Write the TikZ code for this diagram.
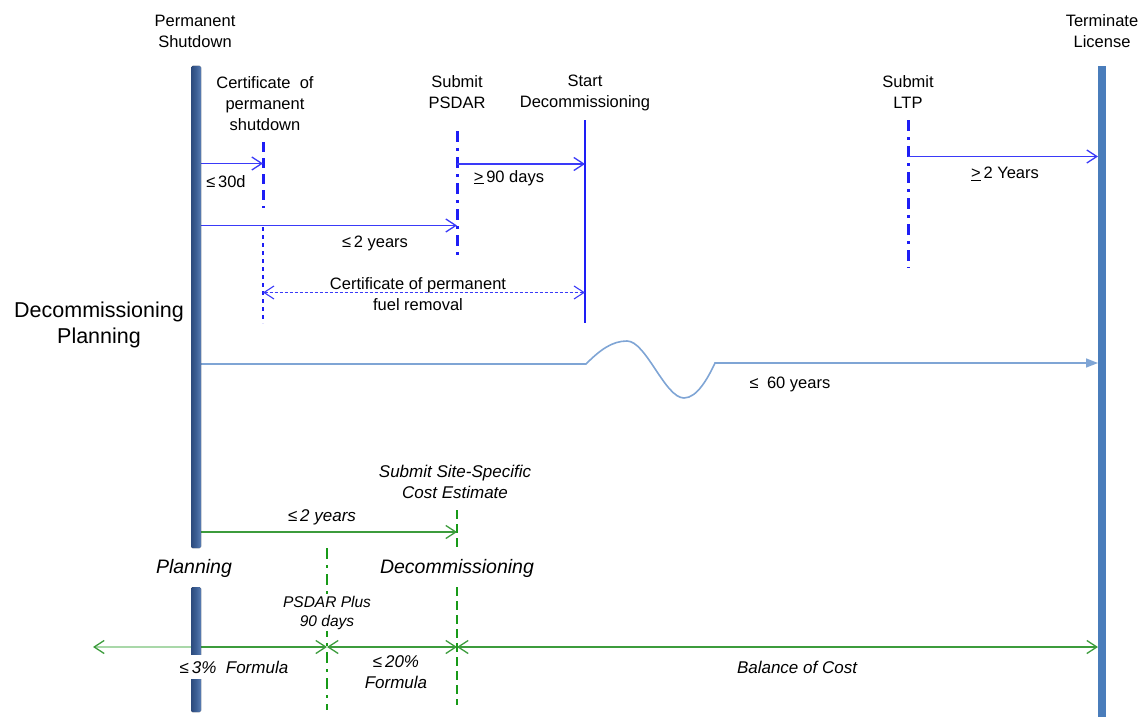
\documentclass[tikz,border=0pt]{standalone}
\usepackage{fontspec}
\setmainfont{Liberation Sans}
\usetikzlibrary{arrows.meta,calc}
\definecolor{nrcblue}{HTML}{1E1EF5}
\definecolor{arrblue}{HTML}{3A3AF8}
\definecolor{barblue}{HTML}{3C5F95}
\definecolor{bardark}{HTML}{2C4A7C}
\definecolor{barlight}{HTML}{5A7DB3}
\definecolor{termblue}{HTML}{4A7DBB}
\definecolor{wavblue}{HTML}{7FA5D5}
\definecolor{costgreen}{HTML}{3C9C3C}
\definecolor{dashgreen}{HTML}{189A18}
\definecolor{palegreen}{HTML}{A9D8A9}
\newcommand{\evfont}{\fontsize{16.5}{21}\selectfont}
\newcommand{\bigfont}{\fontsize{21.5}{26}\selectfont}
\newcommand{\costfont}{\fontsize{17}{21}\selectfont\itshape}
\newcommand{\phasefont}{\fontsize{19.5}{23}\selectfont\itshape}
\newcommand{\smallcost}{\fontsize{15.5}{19}\selectfont\itshape}

\tikzset{
  barb/.tip={Straight Barb[length=10pt,width=13pt]},
  evarrow/.style={arrblue,line width=1.3pt,-barb},
  fuelarrow/.style={arrblue,line width=1.1pt,dash pattern=on 3pt off 2pt,barb-barb},
  costarrow/.style={costgreen,line width=1.3pt,-barb},
  costboth/.style={costgreen,line width=1.3pt,barb-barb},
  palearrow/.style={palegreen,line width=1.3pt,-{Straight Barb[length=10pt,width=13pt,color=costgreen]}},
  certdash/.style={nrcblue,line width=3pt,dash pattern=on 10pt off 6pt},
  thindash/.style={nrcblue,line width=1.1pt,dash pattern=on 4pt off 4pt},
  dashdot/.style={nrcblue,line width=3pt,dash pattern=on 11pt off 6pt on 3pt off 6pt},
  sscdash/.style={dashgreen,line width=2.5pt,dash pattern=on 9pt off 5pt},
  plusdashdot/.style={dashgreen,line width=2.5pt,dash pattern=on 11pt off 6pt on 3pt off 6pt},
  wave/.style={wavblue,line width=1.6pt},
  lbl/.style={inner sep=0pt,align=center}
}

\begin{document}
\begin{tikzpicture}[x=1pt,y=-1pt]
  \useasboundingbox (0,0) rectangle (1143,717);
  % event lines
  \coordinate (shutT) at (196,66);
  \coordinate (certT) at (263,142);
  \coordinate (certM) at (263,208);
  \coordinate (certN) at (263,227);
  \coordinate (certB) at (263,323);
  \coordinate (psdarT) at (457,131);
  \coordinate (psdarB) at (457,258);
  \coordinate (startT) at (585,120);
  \coordinate (startB) at (585,323);
  \coordinate (ltpT) at (908,120);
  \coordinate (ltpB) at (908,268);
  \coordinate (termT) at (1102,66);
  \coordinate (sscT) at (457,510);
  \coordinate (sscM) at (457,548);
  \coordinate (sscN) at (457,587);
  \coordinate (sscB) at (457,705);
  \coordinate (plusT) at (327,548);
  \coordinate (plusB) at (327,710);
  \coordinate (farL) at (93,647);
  % rows
  \coordinate (r30) at (0,163.5);
  \coordinate (r90) at (0,164);
  \coordinate (r2y) at (0,225.5);
  \coordinate (rltp) at (0,156.5);
  \coordinate (rfuel) at (0,292.5);
  \coordinate (rlife) at (0,364);
  \coordinate (rend) at (0,363);
  \coordinate (rssc) at (0,532);
  \coordinate (rbal) at (0,647);

  \draw[certdash] (certT) -- (certM);
  \draw[thindash] (certN) -- (certB);
  \draw[dashdot] (psdarT) -- (psdarB);
  \draw[nrcblue,line width=2.5pt] (startT) -- (startB);
  \draw[dashdot] (ltpT) -- (ltpB);

  % license timeline arrows
  \draw[evarrow] (shutT |- r30) -- (certT |- r30);
  \draw[evarrow] (psdarT |- r90) -- (startT |- r90);
  \draw[evarrow] (shutT |- r2y) -- (psdarT |- r2y);
  \draw[evarrow,shorten >=4pt] (ltpT |- rltp) -- (termT |- rltp);
  \draw[fuelarrow] (certT |- rfuel) -- (startT |- rfuel);

  % sixty year line with the break
  \draw[wave,-{Triangle[length=12pt,width=9pt]},shorten >=4pt] (shutT |- rlife) -- (586,364)
    .. controls (600,350) and (612,341) .. (627,341)
    .. controls (646,341) and (665,398) .. (684,398)
    .. controls (697,398) and (708,378) .. (715,363) -- (termT |- rend);

  % cost estimate lines
  \draw[sscdash] (sscT) -- (sscM);
  \draw[sscdash] (sscN) -- (sscB);
  \draw[plusdashdot] (plusT) -- (plusB);
  \draw[costarrow] (shutT |- rssc) -- (sscT |- rssc);
  \draw[palearrow] (shutT |- rbal) -- (farL);
  \draw[costarrow] (shutT |- rbal) -- (plusT |- rbal);
  \draw[costboth] (sscT |- rbal) -- (plusT |- rbal);
  \draw[costboth,shorten >=4pt] (sscT |- rbal) -- (termT |- rbal);

  % bars
  \fill[left color=bardark,right color=barlight,middle color=barblue,rounded corners=1.5pt] (191,66) rectangle (201,548);
  \fill[left color=bardark,right color=barlight,middle color=barblue,rounded corners=1.5pt] (191,587) rectangle (201,712);
  \fill[termblue] (1097.5,66) rectangle (1106,717);

  % event labels
  \node[lbl,font=\evfont] (shutlbl) at (195,31) {Permanent\\Shutdown};
  \node[lbl,font=\evfont] (termlbl) at (1102,31) {Terminate\\License};
  \node[lbl,font=\evfont] (certlbl) at (265,103.5) {Certificate\ \ of\\permanent\\shutdown};
  \node[lbl,font=\evfont] (psdarlbl) at (457,92.5) {Submit\\PSDAR};
  \node[lbl,font=\evfont] (startlbl) at (585,92.5) {Start\\Decommissioning};
  \node[lbl,font=\evfont] (ltplbl) at (908,92.5) {Submit\\LTP};
  \node[lbl,font=\bigfont] (dplbl) at (99,325) {Decommissioning\\Planning};

  % interval labels
  \node[lbl,font=\evfont] (d30) at (226,182) {≤\,30d};
  \node[lbl,font=\evfont] (d90) at (509,178) {\underline{>}\,90 days};
  \node[lbl,font=\evfont] (y2) at (375,243) {≤\,2 years};
  \node[lbl,font=\evfont] (y2b) at (1005,174) {\underline{>}\,2 Years};
  \node[lbl,font=\evfont] (fuel) at (418,294) {Certificate of permanent\\fuel removal};
  \node[lbl,font=\evfont] (y60) at (790,384) {≤\enspace60 years};

  % cost labels
  \node[lbl,font=\costfont] (ssclbl) at (455,482) {Submit Site-Specific\\Cost Estimate};
  \node[lbl,font=\costfont] (c2y) at (322,517) {≤\,2 years};
  \node[lbl,font=\phasefont] (planlbl) at (194,568) {Planning};
  \node[lbl,font=\phasefont] (declbl) at (457,568) {Decommissioning};
  \node[lbl,font=\smallcost,fill=white,inner sep=1pt] (pluslbl) at (327,613) {PSDAR Plus\\90 days};
  \node[lbl,font=\costfont,fill=white,inner xsep=1pt,inner ysep=6pt] (c3) at (234,667) {≤\,3\%\ \ Formula};
  \node[lbl,font=\costfont] (c20) at (396,672) {≤\,20\%\\Formula};
  \node[lbl,font=\costfont] (cbal) at (797,667) {Balance of Cost};
\end{tikzpicture}
\end{document}
